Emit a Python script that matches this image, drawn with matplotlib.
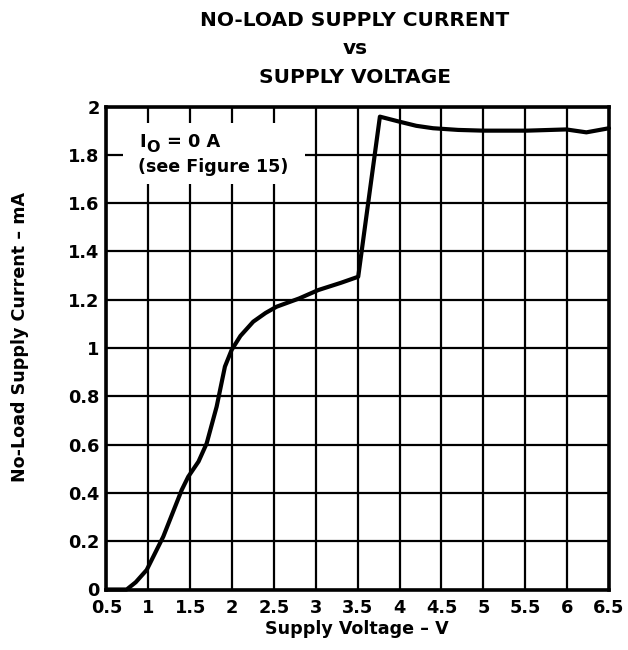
import matplotlib
matplotlib.use("Agg")
import matplotlib.pyplot as plt
from matplotlib.patches import Rectangle

plt.rcParams['font.family'] = ['DejaVu Sans']
plt.rcParams['font.weight'] = 'bold'

# Data
voltage = [0.5, 0.742, 0.85, 0.981, 1.179, 1.399, 1.477, 1.60, 1.697, 1.816, 1.915, 1.995,
           2.10, 2.253, 2.40, 2.532, 2.80, 3.03, 3.30, 3.506, 3.646, 3.765, 4.0, 4.2, 4.40,
           4.7, 5.0, 5.52, 5.99, 6.23, 6.5]
current = [0.0, 0.0, 0.03, 0.081, 0.219, 0.412, 0.467, 0.53, 0.605, 0.757, 0.923, 0.992,
           1.05, 1.109, 1.145, 1.171, 1.205, 1.240, 1.27, 1.295, 1.654, 1.958, 1.937, 1.92,
           1.910, 1.903, 1.90, 1.90, 1.905, 1.893, 1.91]

xticks = [0.5, 1, 1.5, 2, 2.5, 3, 3.5, 4, 4.5, 5, 5.5, 6, 6.5]
xtick_labels = ['0.5', '1', '1.5', '2', '2.5', '3', '3.5', '4', '4.5', '5', '5.5', '6', '6.5']
yticks = [0, 0.2, 0.4, 0.6, 0.8, 1.0, 1.2, 1.4, 1.6, 1.8, 2.0]
ytick_labels = ['0', '0.2', '0.4', '0.6', '0.8', '1', '1.2', '1.4', '1.6', '1.8', '2']

W, H = 628, 650
fig = plt.figure(figsize=(W / 100, H / 100), dpi=100)
ax = fig.add_axes([106.4 / W, 1 - 589.5 / H, (609 - 106.4) / W, (589.5 - 106.5) / H])

ax.plot(voltage, current, color='black', linewidth=3.0, solid_joinstyle='round',
        solid_capstyle='round', zorder=4, clip_on=False)

ax.set_xlim(0.5, 6.5)
ax.set_ylim(0, 2)
ax.set_xticks(xticks)
ax.set_xticklabels(xtick_labels, fontsize=12.8, fontweight='bold')
ax.set_yticks(yticks)
ax.set_yticklabels(ytick_labels, fontsize=12.8, fontweight='bold')
ax.tick_params(axis='x', length=0, pad=7)
ax.tick_params(axis='y', length=0, pad=5)
ax.grid(True, color='black', linewidth=1.6)
ax.set_axisbelow(True)
for s in ax.spines.values():
    s.set_linewidth(2.6)
    s.set_zorder(5)

# white background behind the note (interrupts grid lines)
ax.add_patch(Rectangle((0.033, 0.8395), 0.362, 0.126, transform=ax.transAxes,
                       facecolor='white', edgecolor='none', zorder=2))

def px(x, y):
    return x / W, 1 - y / H

fig.text(*px(139, 146.7), 'I', fontsize=12.8, fontweight='bold', va='baseline', ha='left')
fig.text(*px(146.5, 151.5), 'O', fontsize=11.5, fontweight='bold', va='baseline', ha='left')
fig.text(*px(167, 146.7), '= 0 A', fontsize=12.8, fontweight='bold', va='baseline', ha='left')
fig.text(*px(138.3, 171.7), '(see Figure 15)', fontsize=12.6, fontweight='bold',
         va='baseline', ha='left')

fig.text(*px(357, 634), 'Supply Voltage – V', fontsize=12.6, fontweight='bold',
         ha='center', va='baseline')
fig.text(*px(20, 337.5), 'No-Load Supply Current – mA', fontsize=12.6, fontweight='bold',
         ha='center', va='center', rotation=90)

fig.text(*px(355, 25.7), 'NO-LOAD SUPPLY CURRENT', ha='center', va='baseline',
         fontsize=14.5, fontweight='bold')
fig.text(*px(355, 54), 'vs', ha='center', va='baseline', fontsize=14.5, fontweight='bold')
fig.text(*px(355, 82.7), 'SUPPLY VOLTAGE', ha='center', va='baseline',
         fontsize=14.5, fontweight='bold')

fig.savefig('out.png', dpi=100, facecolor='white')
